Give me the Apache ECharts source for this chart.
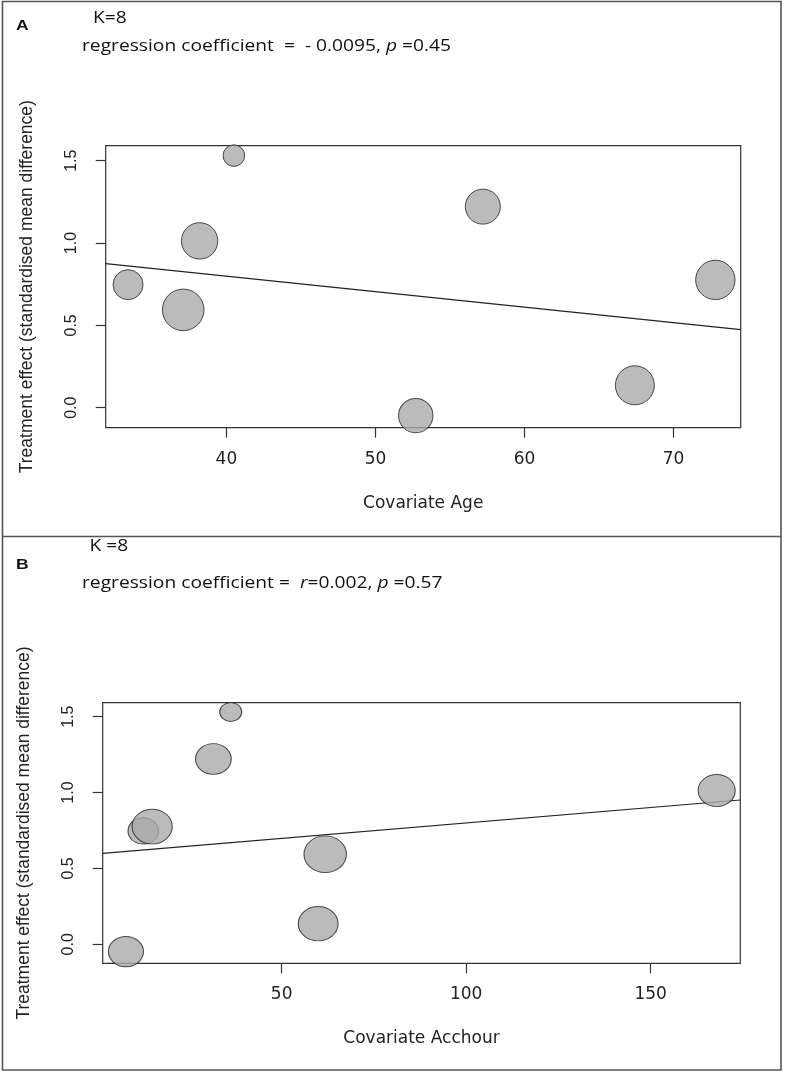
<!DOCTYPE html>
<html><head><meta charset="utf-8">
<script src="https://cdn.jsdelivr.net/npm/echarts@6/dist/echarts.min.js"></script>
<style>html,body{margin:0;padding:0;background:#fff}#c{width:785px;height:1074px}</style>
</head><body><div id="c"></div>
<script>
// ---- data ----
const studyWeight = [30, 41.6, 36.4, 21.6, 34.4, 35, 39, 39.4];       // bubble diameter (study weight)
const effectSMD   = [0.747, 0.594, 1.013, 1.531, -0.048, 1.221, 0.136, 0.776];
const covAge      = [33.4, 37.1, 38.2, 40.5, 52.7, 57.2, 67.4, 72.8];
const covAcchour  = [12.5, 61.8, 167.9, 36.2, 7.8, 31.5, 59.9, 14.9];
const fitAgeX     = [31.9, 74.5];
const fitAgeY     = [0.875, 0.474];
const fitAccX     = [1.5, 174.3];
const fitAccY     = [0.599, 0.951];
const ageTicks    = [40, 50, 60, 70];
const accTicks    = [50, 100, 150];
const yTicks      = [0, 0.5, 1, 1.5];

const xfont = 'DejaVu Sans, sans-serif';
const yfont = 'Liberation Sans, Arial, sans-serif';
const hfont = 'Open Sans, sans-serif';
const SX = 1.13; // horizontal stretch of the reference figure text

function pairs(xs, ys){ return xs.map((x,i)=>[x, ys[i]]); }

function xAxisCfg(gi, min, max, ticks, name){
  return {
    type:'value', gridIndex:gi, min:min, max:max,
    name:name, nameLocation:'middle', nameGap:67,
    nameTextStyle:{fontFamily:xfont, fontSize:17, color:'#222'},
    axisLine:{show:false, onZero:false}, splitLine:{show:false},
    axisTick:{show:true, length:10, customValues:ticks, lineStyle:{color:'#333', width:1.2}},
    axisLabel:{customValues:ticks, margin:23, fontFamily:xfont, fontSize:17, color:'#222'}
  };
}
function yAxisCfg(gi, min, max){
  return {
    type:'value', gridIndex:gi, min:min, max:max,
    name:'Treatment effect (standardised mean difference)', nameLocation:'middle', nameGap:70,
    nameTextStyle:{fontFamily:yfont, fontSize:17.5, color:'#222'},
    axisLine:{show:false, onZero:false}, splitLine:{show:false},
    axisTick:{show:true, length:10, customValues:yTicks, lineStyle:{color:'#333', width:1.2}},
    axisLabel:{customValues:yTicks, rotate:90, margin:26, fontFamily:yfont, fontSize:16, color:'#222',
      formatter:v=>v.toFixed(1)}
  };
}
const bubbleStyle = {color:'#aaaaaa', borderColor:'#222', borderWidth:1};

function htext(x, y, rich){
  return {type:'text', x:x, y:y, scaleX:SX, style:{
    text:rich, verticalAlign:'middle',
    rich:{n:{fontFamily:hfont, fontSize:17, fill:'#111'},
          i:{fontFamily:hfont, fontSize:17, fontStyle:'italic', fill:'#111'}}}};
}
function ptext(x, y, t){
  return {type:'text', x:x, y:y, scaleX:SX, style:{
    text:t, fontFamily:yfont, fontWeight:'bold', fontSize:15.5, fill:'#111', verticalAlign:'middle'}};
}

const chart = echarts.init(document.getElementById('c'), null, {renderer:'canvas'});
chart.setOption({
  animation:false,
  grid:[
    {left:105.7, top:145.7, width:635, height:282, show:true, borderColor:'#333', borderWidth:1.2, backgroundColor:'transparent'},
    {left:102.7, top:702.7, width:637.6, height:260.6, show:true, borderColor:'#333', borderWidth:1.2, backgroundColor:'transparent'}
  ],
  xAxis:[ xAxisCfg(0, 31.9, 74.5, ageTicks, 'Covariate Age'),
          xAxisCfg(1, 1.5, 174.3, accTicks, 'Covariate Acchour') ],
  yAxis:[ yAxisCfg(0, -0.1215, 1.591), yAxisCfg(1, -0.125, 1.592) ],
  series:[
    {type:'line', xAxisIndex:0, yAxisIndex:0, data:pairs(fitAgeX, fitAgeY), symbol:'none',
     lineStyle:{color:'#222', width:1.2}, z:2},
    {type:'scatter', xAxisIndex:0, yAxisIndex:0, data:pairs(covAge, effectSMD), clip:true,
     symbolSize:(v,p)=>studyWeight[p.dataIndex], itemStyle:bubbleStyle, z:3},
    {type:'line', xAxisIndex:1, yAxisIndex:1, data:pairs(fitAccX, fitAccY), symbol:'none',
     lineStyle:{color:'#222', width:1.2}, z:2},
    {type:'scatter', xAxisIndex:1, yAxisIndex:1, data:pairs(covAcchour, effectSMD), clip:true,
     symbolSize:(v,p)=>[studyWeight[p.dataIndex]*1.02, studyWeight[p.dataIndex]*0.88], itemStyle:bubbleStyle, z:3}
  ],
  graphic:[
    {type:'rect', shape:{x:2.5, y:1.5, width:778.5, height:1068.5}, style:{fill:'none', stroke:'#555', lineWidth:1.6}, silent:true},
    {type:'line', shape:{x1:2.5, y1:536.5, x2:781, y2:536.5}, style:{stroke:'#555', lineWidth:1.6}, silent:true},
    ptext(16, 25.5, 'A'),
    htext(93, 18.5, '{n|K=8}'),
    htext(82, 46.5, '{n|regression coefficient  =  - 0.0095, }{i|p}{n| =0.45}'),
    ptext(16, 564.3, 'B'),
    htext(89.5, 546.5, '{n|K =8}'),
    htext(82, 583, '{n|regression coefficient =  }{i|r}{n|=0.002, }{i|p}{n| =0.57}')
  ]
});
</script></body></html>
